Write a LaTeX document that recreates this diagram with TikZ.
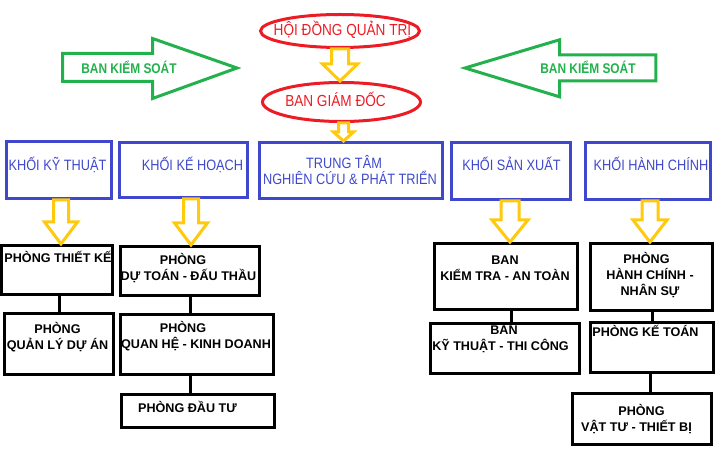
\documentclass[tikz,border=0pt]{standalone}
\usepackage{fontspec}
\setmainfont{Liberation Sans}
\newfontfamily\narrowfont[FakeStretch=0.85]{Liberation Sans}
\usetikzlibrary{shapes.geometric,calc}
\definecolor{pred}{RGB}{237,28,36}
\definecolor{pgreen}{RGB}{34,177,76}
\definecolor{pyellow}{RGB}{255,201,14}
\definecolor{pblue}{RGB}{63,72,204}
\tikzset{
 oval/.style={ellipse, draw=pred, line width=3pt, inner sep=0pt},
 bbox/.style={rectangle, draw=pblue, line width=3pt, inner sep=0pt},
 kbox/.style={rectangle, draw=black, line width=3pt, inner sep=0pt},
 btxt/.style={font=\narrowfont\fontsize{15}{16}\selectfont, text=pblue, inner sep=0pt, anchor=base, align=center},
 ktxt/.style={font=\fontsize{12.6}{16}\selectfont\bfseries, inner sep=0pt, anchor=base, align=center},
 rtxt/.style={font=\narrowfont\fontsize{16}{18}\selectfont, text=pred, inner sep=0pt, anchor=base},
 gtxt/.style={font=\narrowfont\bfseries\fontsize{14}{16}\selectfont, text=pgreen, inner sep=0pt, anchor=base},
 garrow/.style={draw=pgreen, line width=3pt, line join=miter},
 yarr/.style={draw=pyellow, line width=3pt, line join=miter},
 link/.style={draw=black, line width=3pt},
}
% hollow arrow from node #1 to node #2 at x=#3, shaft half #4, head half #5, head length #6
\newcommand\harrow[6]{%
 \draw[yarr] let \p1=(#1.south), \p2=(#2.north) in
 (#3pt-#4pt,\y1) -- (#3pt+#4pt,\y1) -- (#3pt+#4pt,\y2+#6pt) -- (#3pt+#5pt,\y2+#6pt)
 -- (#3pt,\y2) -- (#3pt-#5pt,\y2+#6pt) -- (#3pt-#4pt,\y2+#6pt) -- cycle;}
\begin{document}
\begin{tikzpicture}[x=1pt,y=-1pt]
\useasboundingbox (0,0) rectangle (721,462);
% top
\node[oval, minimum width=159pt, minimum height=33pt] (hdqt) at (340,31) {};
\node[oval, minimum width=158pt, minimum height=39pt] (bgd) at (341.5,102) {};
\node[rtxt] (thdqt) at (342.5,35.5) {HỘI ĐỒNG QUẢN TRỊ};
\node[rtxt] (tbgd) at (335.5,106.5) {BAN GIÁM ĐỐC};
% green arrows
\draw[garrow] (62.5,53.5) -- (152.5,53.5) -- (152.5,38.5) -- (237,68) -- (152.5,98.5) -- (152.5,81.5) -- (62.5,81.5) -- cycle;
\draw[garrow] (465,68) -- (559.5,39.8) -- (559.5,54.8) -- (655.8,54.8) -- (655.8,80.8) -- (559.5,80.8) -- (559.5,96.8) -- cycle;
\node[gtxt] (gl) at (129,73.3) {BAN KIỂM SOÁT};
\node[gtxt] (gr) at (588,73.3) {BAN KIỂM SOÁT};
% blue boxes
\node[bbox, minimum width=105pt, minimum height=57pt] (b1) at (59,170) {};
\node[bbox, minimum width=128pt, minimum height=55pt] (b2) at (183.5,170) {};
\node[bbox, minimum width=183pt, minimum height=56pt] (b3) at (351,170.5) {};
\node[bbox, minimum width=119pt, minimum height=57pt] (b4) at (511,171) {};
\node[bbox, minimum width=125pt, minimum height=57pt] (b5) at (648,171) {};
\node[btxt] (tb1) at (57.5,171) {KHỐI KỸ THUẬT};
\node[btxt] (tb2) at (192.5,171) {KHỐI KẾ HOẠCH};
\node[btxt] (tb3) at (350,185) {\hspace*{-12pt}TRUNG TÂM\\NGHIÊN CỨU \& PHÁT TRIỂN};
\node[btxt] (tb4) at (511.5,171) {KHỐI SẢN XUẤT};
\node[btxt] (tb5) at (651,171) {KHỐI HÀNH CHÍNH};
% black boxes
\node[kbox, minimum width=111pt, minimum height=49pt] (k1) at (57,270) {};
\node[kbox, minimum width=109pt, minimum height=61pt] (k2) at (59,344) {};
\node[kbox, minimum width=139pt, minimum height=49pt] (k3) at (190,271) {};
\node[kbox, minimum width=153pt, minimum height=60pt] (k4) at (197,344.5) {};
\node[kbox, minimum width=153pt, minimum height=33pt] (k5) at (198,411) {};
\node[kbox, minimum width=143pt, minimum height=66pt] (k6) at (506,276.5) {};
\node[kbox, minimum width=149pt, minimum height=50pt] (k7) at (505,348.5) {};
\node[kbox, minimum width=122pt, minimum height=67pt] (k8) at (651.5,277) {};
\node[kbox, minimum width=123pt, minimum height=50pt] (k9) at (652,347.5) {};
\node[kbox, minimum width=139pt, minimum height=51pt] (k10) at (642,419) {};
\node[ktxt] (tk1) at (58,263) {PHÒNG THIẾT KẾ};
\node[ktxt] (tk2) at (57.5,350) {PHÒNG\\QUẢN LÝ DỰ ÁN};
\node[ktxt] (tk3) at (188.5,281) {\hspace*{-11pt}PHÒNG\\DỰ TOÁN - ĐẤU THẦU};
\node[ktxt] (tk4) at (196,348.7) {\hspace*{-26pt}PHÒNG\\QUAN HỆ - KINH DOANH};
\node[ktxt] (tk5) at (187.5,413) {PHÒNG ĐẦU TƯ};
\node[ktxt] (tk6) at (505,281) {BAN\\KIỂM TRA - AN TOÀN};
\node[ktxt] (tk7) at (500.5,351) {\hspace*{7pt}BAN\\KỸ THUẬT - THI CÔNG};
\node[ktxt] (tk8) at (650,296) {\hspace*{-7pt}PHÒNG\\HÀNH CHÍNH -\\NHÂN SỰ};
\node[ktxt] (tk9) at (645.5,336.7) {PHÒNG KẾ TOÁN};
\node[ktxt] (tk10) at (636.5,431.7) {\hspace*{10pt}PHÒNG\\VẬT TƯ - THIẾT BỊ};
% yellow hollow arrows
\harrow{hdqt}{bgd}{340}{8.5}{17.5}{17}
\harrow{bgd}{b3}{343.5}{5}{10}{9}
\harrow{b1}{k1}{61}{7.5}{16.5}{22}
\harrow{b2}{k3}{191}{7.5}{16.5}{22}
\harrow{b4}{k6}{510}{9}{18}{22}
\harrow{b5}{k8}{650}{8}{17}{22}
% black connectors
\draw[link] (59,0 |- k1.south) -- (59,0 |- k2.north);
\draw[link] (190,0 |- k3.south) -- (190,0 |- k4.north);
\draw[link] (190,0 |- k4.south) -- (190,0 |- k5.north);
\draw[link] (511,0 |- k6.south) -- (511,0 |- k7.north);
\draw[link] (652,0 |- k8.south) -- (652,0 |- k9.north);
\draw[link] (650,0 |- k9.south) -- (650,0 |- k10.north);
\end{tikzpicture}
\end{document}
